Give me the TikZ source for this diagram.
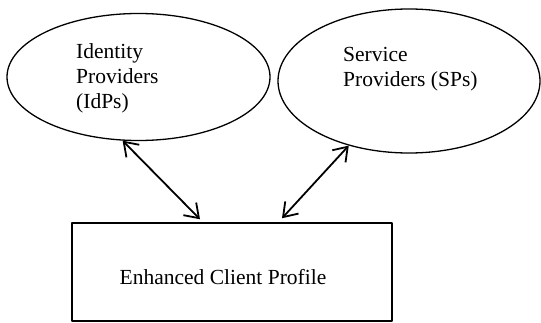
\documentclass[tikz,border=0pt]{standalone}
\usepackage{fontspec}
\setmainfont{Liberation Serif}
\usetikzlibrary{shapes.geometric,arrows.meta}
\tikzset{
	party/.style={draw,ellipse,inner sep=0pt,line width=1.3pt},
	profilebox/.style={draw,rectangle,inner sep=0pt,line width=1.5pt,minimum width=320pt,minimum height=98pt},
	label/.style={align=left,inner sep=0pt,font=\fontsize{21.5}{25}\selectfont}
}
\begin{document}
\begin{tikzpicture}[>={Straight Barb[length=13pt,width=18pt,line width=1.8pt]},line cap=round,line join=round,x=1pt,y=1pt]
	\useasboundingbox (0,0) rectangle (541,322);
	\node[party,minimum width=263pt,minimum height=127pt] (idp) at (138.5,245) {};
	\node[party,minimum width=262pt,minimum height=144pt] (sp) at (409,241) {};
	\node[profilebox] (ecp) at (232,50) {};
	\node[label,anchor=west] (idptxt) at (76,244) {Identity\\Providers\\(IdPs)};
	\node[label,anchor=west] (sptxt) at (343,252.5) {Service\\Providers (SPs)};
	\node[label] (ecptxt) at (223,45) {Enhanced Client Profile};
	\draw[<->,line width=1.8pt] (idp.-104) -- ([xshift=-32pt,yshift=3pt]ecp.north);
	\draw[<->,line width=1.8pt] (sp.-133) -- ([xshift=50pt,yshift=4pt]ecp.north);
\end{tikzpicture}
\end{document}
